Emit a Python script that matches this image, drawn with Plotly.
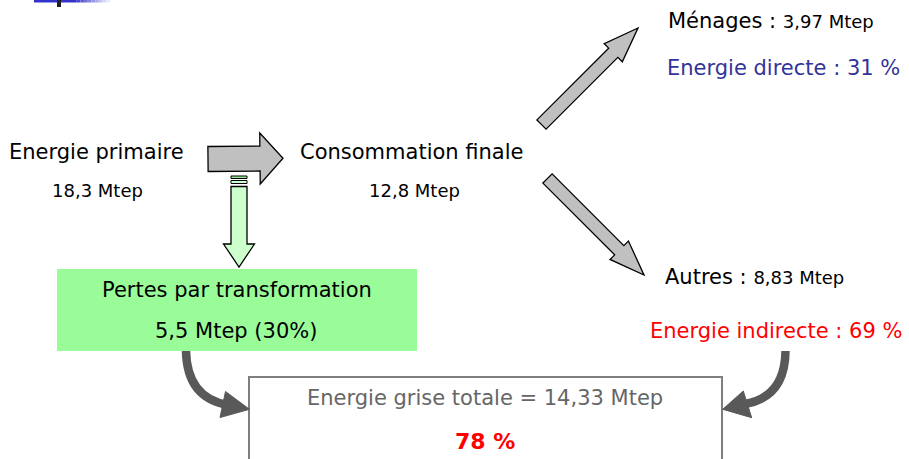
import math
import plotly.graph_objects as go

W, H = 909, 459

# ---------------- data ----------------
node_labels = ["Energie primaire", "Consommation finale"]
node_values = [18.3, 12.8]
loss_label = "Pertes par transformation"
loss_value = 5.5
loss_share = 30
end_labels = ["Ménages", "Autres"]
end_values = [3.97, 8.83]
share_labels = ["Energie directe", "Energie indirecte"]
share_values = [31, 69]
grey_label = "Energie grise totale"
grey_value = 14.33
grey_share = 78
unit = "Mtep"


def fr(v):
    return ("%g" % v).replace(".", ",")


FONT = "DejaVu Sans"
BIG, SMALL = 21, 18
BLACK = "#000000"
BLUE = "#333399"
RED = "#ff0000"
GREYTXT = "#666666"
DARK = "#595959"

shapes = []
annotations = []


def poly(pts, fill, line="black", lw=1.3):
    d = "M " + " L ".join("%.2f,%.2f" % p for p in pts) + " Z"
    shapes.append(dict(type="path", path=d, xref="x", yref="y",
                       fillcolor=fill, line=dict(color=line, width=lw), layer="above"))


def arrow(tail, tip, sw, hw, hl, fill):
    x0, y0 = tail
    x1, y1 = tip
    L = math.hypot(x1 - x0, y1 - y0)
    dx, dy = (x1 - x0) / L, (y1 - y0) / L
    nx, ny = -dy, dx
    bx, by = x1 - dx * hl, y1 - dy * hl
    pts = [
        (x0 + nx * sw, y0 + ny * sw),
        (bx + nx * sw, by + ny * sw),
        (bx + nx * hw, by + ny * hw),
        (x1, y1),
        (bx - nx * hw, by - ny * hw),
        (bx - nx * sw, by - ny * sw),
        (x0 - nx * sw, y0 - ny * sw),
    ]
    poly(pts, fill)


def rect(x0, y0, x1, y1, fill, line=None, lw=0):
    shapes.append(dict(type="rect", x0=x0, y0=y0, x1=x1, y1=y1, xref="x", yref="y",
                       fillcolor=fill,
                       line=dict(color=line if line else fill, width=lw), layer="above"))


def text(x, y, s, size=BIG, color=BLACK, xanchor="center", bold=False):
    if bold:
        s = "<b>" + s + "</b>"
    annotations.append(dict(x=x, y=y, xref="x", yref="y", text=s, showarrow=False,
                            xanchor=xanchor, yanchor="middle",
                            font=dict(family=FONT, size=size, color=color)))


# top-left decoration (gradient bar)
rect(34, 0, 73, 2.5, "#3333cc")
n = 10
for i in range(n):
    t = i / n
    r = int(0x33 + (255 - 0x33) * t)
    b = int(0xcc + (255 - 0xcc) * t)
    rect(73 + i * 3.7, 0, 73 + (i + 1) * 3.7, 2.5, "rgb(%d,%d,%d)" % (r, r, b))
rect(57, 0, 61, 7, "#222222")

# green box
rect(57, 269, 417, 351, "#99fc99")
# bottom box
rect(249, 377, 722, 475, "white", "#7f7f7f", 2)

# grey arrows
arrow((208, 159), (283, 158.3), 12.5, 25.5, 23, "#c0c0c0")
arrow((541.5, 124.5), (638, 28), 6.5, 12.8, 35, "#c0c0c0")
arrow((547.5, 178.5), (644, 275), 6.5, 13, 35, "#c0c0c0")

# green down arrow with stripes
rect(231, 176, 247, 178.5, "#99e699", "black", 1)
rect(231, 180.5, 247, 183.5, "#ccffcc", "black", 1)
arrow((239, 186.5), (239, 267), 8, 15.5, 23, "#ccffcc")

# curved dark arrows
shapes.append(dict(type="path", path="M 186,351 Q 187,398 228,405", xref="x", yref="y",
                   line=dict(color=DARK, width=8.5), layer="above"))
poly([(225.5, 391.5), (220, 417.5), (249.5, 409.3)], DARK, DARK, 1)
shapes.append(dict(type="path", path="M 785.5,351 Q 785,397 745,404", xref="x", yref="y",
                   line=dict(color=DARK, width=8.5), layer="above"))
poly([(743.3, 391), (751.7, 417.7), (722.7, 409.3)], DARK, DARK, 1)

# texts
text(96.5, 152, node_labels[0])
text(97, 190.5, "%s %s" % (fr(node_values[0]), unit), SMALL)
text(411.5, 152, node_labels[1])
text(414, 190.5, "%s %s" % (fr(node_values[1]), unit), SMALL)

text(666, 21, "%s : <span style='font-size:%dpx'>%s %s</span>" % (end_labels[0], SMALL, fr(end_values[0]), unit), xanchor="left")
text(665, 67.5, "%s : %d %%" % (share_labels[0], share_values[0]), color=BLUE, xanchor="left")
text(663, 277, "%s : <span style='font-size:%dpx'>%s %s</span>" % (end_labels[1], SMALL, fr(end_values[1]), unit), xanchor="left")
text(648, 330.5, "%s : %d %%" % (share_labels[1], share_values[1]), color=RED, xanchor="left")

text(237, 289.5, loss_label)
text(236, 331, "%s %s (%d%%)" % (fr(loss_value), unit, loss_share))

text(485, 398, "%s = %s %s" % (grey_label, fr(grey_value), unit), color=GREYTXT)
text(485, 441.5, "%d %%" % grey_share, size=22, color=RED, bold=True)

fig = go.Figure()
fig.update_layout(
    width=W, height=H, autosize=False,
    margin=dict(l=0, r=0, t=0, b=0, pad=0),
    paper_bgcolor="white", plot_bgcolor="white",
    xaxis=dict(range=[0, W], visible=False, fixedrange=True),
    yaxis=dict(range=[H, 0], visible=False, fixedrange=True),
    shapes=shapes, annotations=annotations, showlegend=False,
)
fig.write_html(
    "out.html",
    config={"displayModeBar": False},
    post_script="document.body.style.margin='0px';document.body.style.overflow='hidden';",
)
